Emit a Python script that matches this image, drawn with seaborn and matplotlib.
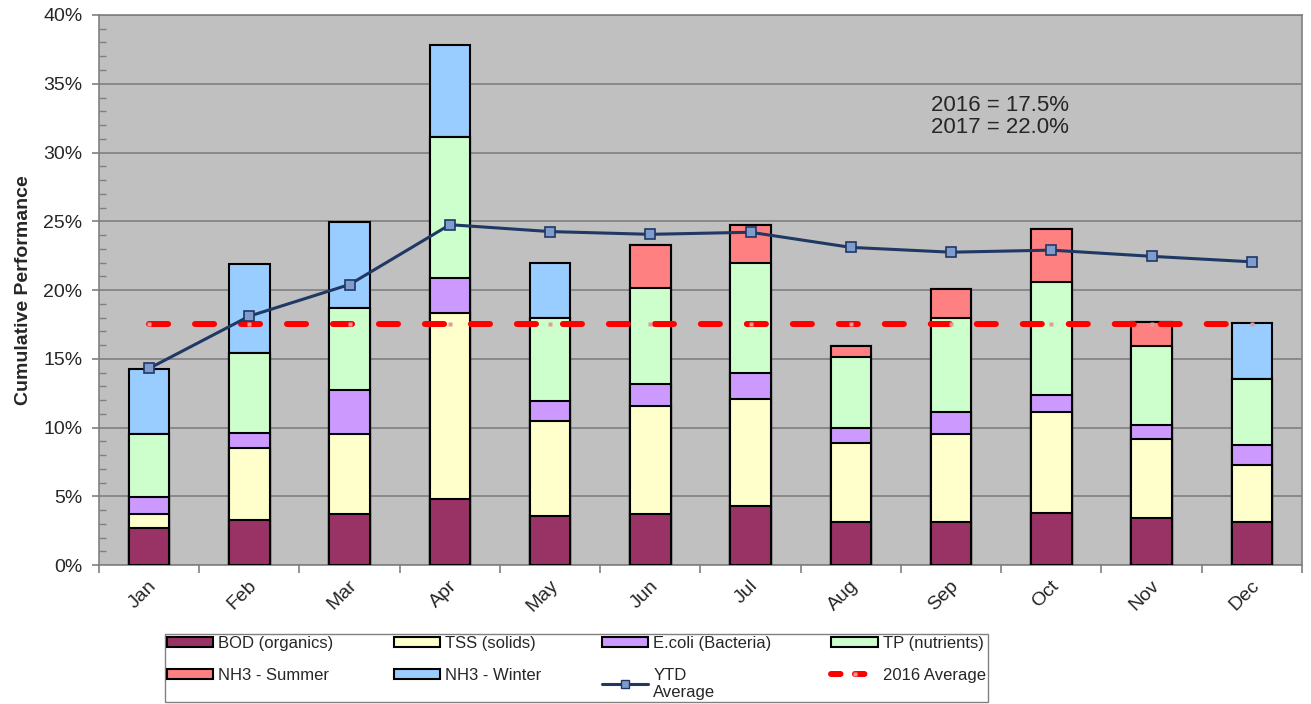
import numpy as np
import matplotlib
matplotlib.use("Agg")
import matplotlib.pyplot as plt
from matplotlib.patches import Patch
from matplotlib.lines import Line2D
from matplotlib.ticker import MultipleLocator, FuncFormatter
from matplotlib.transforms import ScaledTranslation
import seaborn as sns

# data (percent)
months = ["Jan", "Feb", "Mar", "Apr", "May", "Jun", "Jul", "Aug", "Sep", "Oct", "Nov", "Dec"]
bod = [2.7, 3.3, 3.7, 4.8, 3.6, 3.7, 4.3, 3.1, 3.15, 3.75, 3.45, 3.1]
tss = [1.0, 5.2, 5.8, 13.5, 6.9, 7.9, 7.8, 5.75, 6.4, 7.35, 5.7, 4.15]
ecoli = [1.25, 1.1, 3.2, 2.55, 1.45, 1.55, 1.9, 1.15, 1.6, 1.3, 1.0, 1.45]
tp = [4.6, 5.8, 6.0, 10.25, 6.0, 7.0, 8.0, 5.15, 6.8, 8.15, 5.8, 4.8]
nh3_summer = [0, 0, 0, 0, 0, 3.1, 2.7, 0.8, 2.15, 3.9, 1.7, 0]
nh3_winter = [4.7, 6.5, 6.25, 6.7, 4.05, 0, 0, 0, 0, 0, 0, 4.1]
ytd_avg = [14.3, 18.1, 20.4, 24.75, 24.25, 24.05, 24.2, 23.1, 22.75, 22.9, 22.45, 22.05]
avg_2016 = 17.5

layer_names = ["BOD (organics)", "TSS (solids)", "E.coli (Bacteria)", "TP (nutrients)",
               "NH3 - Summer", "NH3 - Winter"]
layer_colors = ["#993366", "#ffffcc", "#cc99ff", "#ccffcc", "#ff8080", "#99ccff"]

sns.set_style("white")
plt.rcParams["font.family"] = ["Liberation Sans", "DejaVu Sans"]

fig = plt.figure(figsize=(13.11, 7.04), dpi=100)
ax = fig.add_axes([0.0755, 0.1974, 0.9176, 0.7813])
ax.set_facecolor("#c0c0c0")

# stacked bars: draw cumulative totals from the top layer down
layers = np.array([bod, tss, ecoli, tp, nh3_summer, nh3_winter])
tops = np.cumsum(layers, axis=0)
for k in range(len(layers) - 1, -1, -1):
    sns.barplot(x=months, y=tops[k], order=months, color=layer_colors[k], saturation=1,
                width=0.405, edgecolor="black", linewidth=1.5, errorbar=None, ax=ax, zorder=3)

pos = np.arange(len(months))
ax.plot(pos, [avg_2016] * len(months), color="red", lw=4.3, linestyle=(0, (3.2, 4.5)),
        dash_capstyle="round", marker="s", ms=3, mfc="#e39a9a", mec="none", zorder=4)
sns.lineplot(x=pos, y=ytd_avg, color="#1f3864", linewidth=2.2, marker="s", markersize=6.5,
             markerfacecolor="#7f9ccc", markeredgecolor="#1f3864", markeredgewidth=1.2,
             ax=ax, zorder=5)

ax.text(7.80, 32.6, "2016 = 17.5%\n2017 = 22.0%", fontsize=16, va="center", ha="left",
        linespacing=1.05)

# axes
ax.set_xlim(-0.5, 11.5)
ax.set_ylim(0, 40)
ax.yaxis.set_major_locator(MultipleLocator(5))
ax.yaxis.set_minor_locator(MultipleLocator(1))
ax.yaxis.set_major_formatter(FuncFormatter(lambda v, p: f"{v:.0f}%"))
ax.set_axisbelow(True)
ax.yaxis.grid(True, which="major", color="#808080", linewidth=1.2)
ax.xaxis.grid(False)
for sp in ax.spines.values():
    sp.set_color("#808080")
    sp.set_linewidth(1.2)

ax.set_xticks(pos)
ax.set_xticklabels(months)
ax.set_xticks(np.arange(-0.5, 12, 1), minor=True)
ax.tick_params(axis="x", which="major", length=0, pad=13, labelsize=14)
ax.tick_params(axis="x", which="minor", length=6, direction="out", color="#808080", width=1.2)
ax.tick_params(axis="y", which="major", length=5, direction="out", color="#808080",
               width=1.2, labelsize=14, pad=7)
ax.tick_params(axis="y", which="minor", length=5, direction="in", color="#808080", width=1)
ax.tick_params(axis="y", which="both", left=True)
ax.tick_params(axis="x", which="both", bottom=True)
shift = ScaledTranslation(0.05, 0, fig.dpi_scale_trans)
for lbl in ax.get_xticklabels():
    lbl.set_rotation(45)
    lbl.set_ha("right")
    lbl.set_va("center")
    lbl.set_rotation_mode("anchor")
    lbl.set_transform(lbl.get_transform() + shift)

ax.set_xlabel("")
ax.set_ylabel("Cumulative Performance", fontsize=14, fontweight="bold", labelpad=8)

# legend (row-wise order, so interleave for column-major filling)
patches = [Patch(facecolor=c, edgecolor="black", linewidth=1.5) for c in layer_colors]
ytd_h = Line2D([], [], color="#1f3864", lw=2.2, marker="s", ms=6, mfc="#7f9ccc", mec="#1f3864")
avg_h = Line2D([], [], color="red", lw=4.3, linestyle=(0, (1.6, 2.4)), dash_capstyle="round",
               marker="s", ms=3, mfc="#e39a9a", mec="none")
row1 = list(zip(patches[:4], layer_names[:4]))
row2 = [(patches[4], layer_names[4]), (patches[5], layer_names[5]),
        (ytd_h, "YTD\nAverage"), (avg_h, "2016 Average")]
items = [it for pair in zip(row1, row2) for it in pair]
fig.legend([h for h, _ in items], [l for _, l in items], loc="center",
           bbox_to_anchor=(0.4397, 0.051), ncol=4, fontsize=12, frameon=True,
           fancybox=False, edgecolor="#808080", framealpha=1, handlelength=2.8,
           handleheight=0.55, handletextpad=0.3, columnspacing=3.6, labelspacing=1.0,
           borderpad=0.1)

fig.savefig("out.png", dpi=100)
